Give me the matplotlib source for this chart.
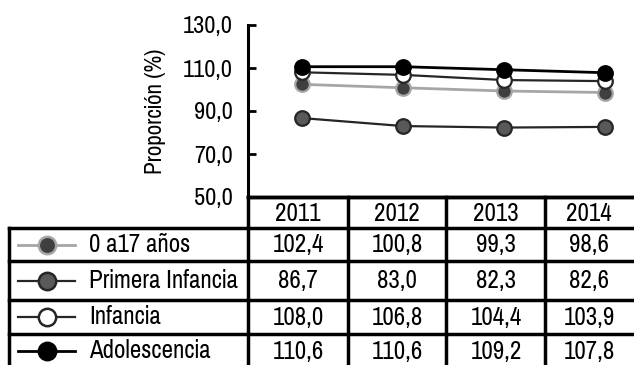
import matplotlib
matplotlib.use("Agg")
import matplotlib.pyplot as plt
from matplotlib.lines import Line2D

plt.rcParams['font.family'] = ['Pragati Narrow', 'Roboto Condensed', 'DejaVu Sans']

# ---- data ----
years = ["2011", "2012", "2013", "2014"]
series_names = ["0 a17 años", "Primera Infancia", "Infancia", "Adolescencia"]
vals_0a17 = [102.4, 100.8, 99.3, 98.6]
vals_primera = [86.7, 83.0, 82.3, 82.6]
vals_infancia = [108.0, 106.8, 104.4, 103.9]
vals_adolescencia = [110.6, 110.6, 109.2, 107.8]
y_ticks = [50, 70, 90, 110, 130]

series_vals = [vals_0a17, vals_primera, vals_infancia, vals_adolescencia]
styles = [
    dict(color="#a6a6a6", mfc="#3f3f3f", mec="#a6a6a6", lw=2.0),
    dict(color="#262626", mfc="#595959", mec="#262626", lw=1.6),
    dict(color="#262626", mfc="white", mec="#262626", lw=1.6),
    dict(color="black", mfc="black", mec="black", lw=2.0),
]

W, H = 634, 365
fig = plt.figure(figsize=(W / 100, H / 100), dpi=100)

# ---- line plot ----
ax_left, ax_right = 248, 634
ax_top, ax_bot = 25, 197
ax = fig.add_axes([ax_left / W, 1 - ax_bot / H, (ax_right - ax_left) / W, (ax_bot - ax_top) / H])
x = list(range(len(years)))
for vals, st in zip(series_vals, styles):
    ax.plot(x, vals, marker="o", markersize=10.5, markeredgewidth=1.6, zorder=3,
            color=st["color"], mfc=st["mfc"], mec=st["mec"], lw=st["lw"], clip_on=False)
ax.set_xlim(-0.535, 3.287)
ax.set_ylim(50, 130)
ax.set_yticks(y_ticks)
ax.set_yticklabels([f"{v:.1f}".replace(".", ",") for v in y_ticks], fontsize=19)
ax.tick_params(axis="y", direction="in", length=6, width=2, pad=11)
ax.set_xticks([])
for s in ["top", "right"]:
    ax.spines[s].set_visible(False)
ax.spines["left"].set_linewidth(2.2)
ax.spines["bottom"].set_linewidth(2.5)
ax.set_ylabel("Proporción (%)", fontsize=18, labelpad=12)

# ---- data table beneath the plot ----
tab = fig.add_axes([0, 0, 1, 1])
tab.set_xlim(0, W)
tab.set_ylim(H, 0)
tab.axis("off")

col_edges = [248, 348, 446, 545, 640]
col_centers = [298, 397, 496, 589]
row_edges = [197, 228, 261, 300, 334, 372]
left_edge = 9
lw = 2.5
fs = 19.5

# horizontal lines
tab.plot([248, W], [row_edges[0]] * 2, color="black", lw=lw)
for yv in row_edges[1:-1]:
    tab.plot([left_edge, W], [yv, yv], color="black", lw=lw)
# vertical lines
tab.plot([left_edge, left_edge], [row_edges[1], H], color="black", lw=lw)
for xv in col_edges[:-1]:
    tab.plot([xv, xv], [row_edges[0], H], color="black", lw=lw)

# header
for c, yr in zip(col_centers, years):
    tab.text(c, (row_edges[0] + row_edges[1]) / 2 + 1, yr, ha="center", va="center", fontsize=fs)

# rows
for i, (name, vals, st) in enumerate(zip(series_names, series_vals, styles)):
    yc = (row_edges[i + 1] + row_edges[i + 2]) / 2
    if i == 3:
        yc = 351
    tab.add_line(Line2D([18, 75], [yc, yc], color=st["color"], lw=st["lw"]))
    tab.plot([47], [yc], marker="o", markersize=12.5, mfc=st["mfc"], mec=st["mec"],
             mew=1.8, color=st["color"])
    tab.text(89, yc, name, ha="left", va="center", fontsize=fs)
    for c, v in zip(col_centers, vals):
        tab.text(c, yc, f"{v:.1f}".replace(".", ","), ha="center", va="center", fontsize=fs)

fig.savefig("out.png", dpi=100)
